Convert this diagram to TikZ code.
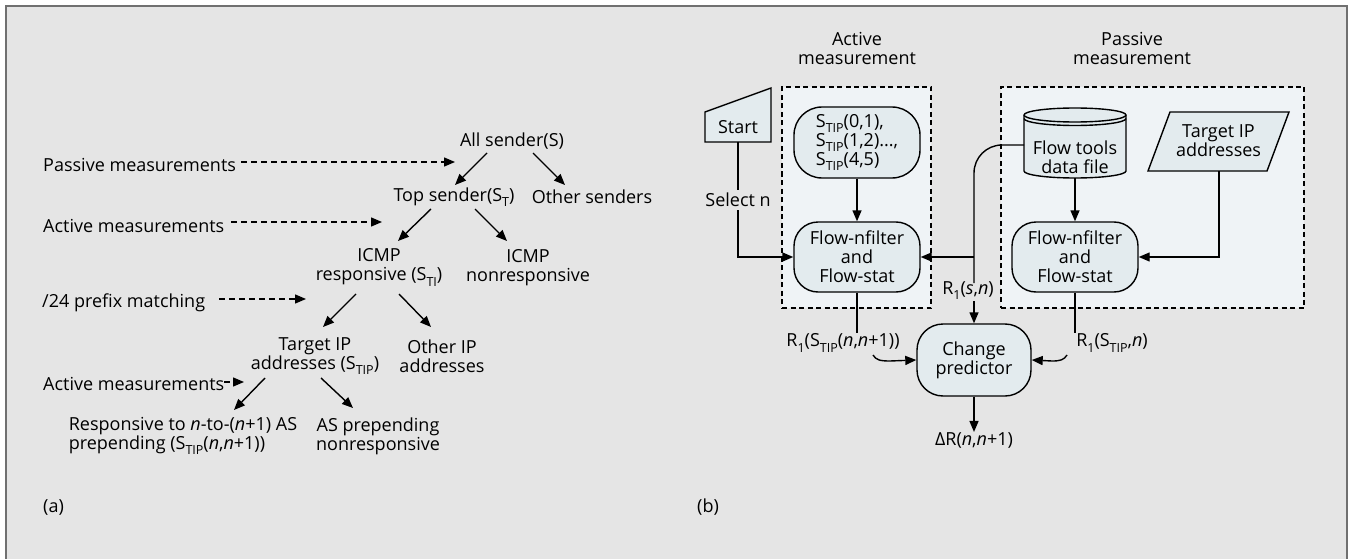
\documentclass[tikz,border=0pt]{standalone}
\usepackage{fontspec}
\setmainfont{Open Sans}
\usetikzlibrary{arrows.meta,calc}
\definecolor{bgc}{HTML}{E5E5E5}
\definecolor{framec}{HTML}{707070}
\definecolor{nodefill}{HTML}{E3EBEE}
\definecolor{boxfill}{HTML}{EFF3F6}
\newcommand\sbs[1]{\raisebox{-0.28em}{\fontsize{12.5}{12.5}\selectfont #1}}
\newcommand\nn{\textit{n}}
\begin{document}
\begin{tikzpicture}[x=1pt,y=-1pt,
  every node/.style={font=\fontsize{18}{19}\selectfont, inner sep=0pt},
  ln/.style={line width=1.4pt, black},
  arr/.style={ln, -{Triangle[length=11pt,width=9pt]}},
  darr/.style={arr, dash pattern=on 6pt off 4pt},
  rbox/.style={draw, line width=1.4pt, fill=nodefill, rounded corners=24pt, align=center, minimum width=126pt, minimum height=70pt},
  dbox/.style={draw, line width=1.1pt, dash pattern=on 5pt off 3.5pt, fill=boxfill},
  txt/.style={align=center}]
\useasboundingbox (0,0) rectangle (1357,559);
\fill[bgc] (6,6) rectangle (1347,559);
\draw[framec, line width=2pt] (6,559) -- (6,6) -- (1347,6) -- (1347,559);

% ---------- (a) ----------
\node[txt] (allS) at (512,141) {All sender(S)};
\node[txt] (topS) at (454,197) {Top sender(S\sbs{T})};
\node[txt] (others) at (592,197) {Other senders};
\node[txt] (icmpR) at (379,267.5) {ICMP\\responsive (S\sbs{TI})};
\node[txt] (icmpN) at (528,267.5) {ICMP\\nonresponsive};
\node[txt] (tip) at (315,356.5) {Target IP\\addresses (S\sbs{TIP})};
\node[txt] (otherIP) at (442,356.5) {Other IP\\addresses};
\node[align=left] (resp) at (183,436) {Responsive to \nn-to-(\nn+1) AS\\prepending (S\sbs{TIP}(\nn,\nn+1))};
\node[txt] (asnon) at (378,436) {AS prepending\\nonresponsive};
\node[anchor=west] (pm) at (43,165) {Passive measurements};
\node[anchor=west] (am1) at (43,226) {Active measurements};
\node[anchor=west] (pfx) at (42,303) {/24 prefix matching};
\node[anchor=west] (am2) at (43,384) {Active measurements};
\node[anchor=west] (la) at (43,507) {(a)};

\coordinate (pmE) at (455,162);
\coordinate (am1E) at (382,222);
\coordinate (pfxE) at (306,299);
\coordinate (am2E) at (244,382);
\draw[darr] (241,162) -- (pmE);
\draw[darr] (231,222) -- (am1E);
\draw[darr] (219,299) -- (pfxE);
\draw[darr] (224,382) -- (am2E);

\draw[arr] ($(allS)+(-25,12)$) -- ($(topS)+(1,-12)$);
\draw[arr] ($(allS)+(21,12)$) -- ($(others)+(-27,-12)$);
\draw[arr] ($(topS)+(-23,12)$) -- ($(icmpR)+(19,-26.5)$);
\draw[arr] ($(topS)+(21,12)$) -- ($(icmpN)+(-21,-26.5)$);
\draw[arr] ($(icmpR)+(-23,26.5)$) -- ($(tip)+(8,-29.5)$);
\draw[arr] ($(icmpR)+(20,26.5)$) -- ($(otherIP)+(-11,-29.5)$);
\draw[arr] ($(tip)+(-50,21.5)$) -- ($(resp)+(51,-26)$);
\draw[arr] ($(tip)+(6,21.5)$) -- ($(asnon)+(-25,-28)$);

% ---------- (b) ----------
\node[txt] (actT) at (857,48.5) {Active\\measurement};
\node[txt] (pasT) at (1132,48.5) {Passive\\measurement};
\node[dbox, minimum width=149pt, minimum height=221pt] (actbox) at (856.5,197.5) {};
\node[dbox, minimum width=303pt, minimum height=221pt] (pasbox) at (1152.5,197.5) {};

% start
\draw[ln, fill=nodefill] (705,112) -- (771,88) -- (771,142) -- (705,142) -- cycle;
\node (start) at (738,127) {Start};
\coordinate (startb) at (738,142);
\node[inner sep=3pt] (seln) at (738,200) {Select n};

% S_TIP box
\node[rbox, rounded corners=28pt, minimum height=71pt, align=left, font=\fontsize{18}{17.5}\selectfont] (stip) at (857,142.5) {S\sbs{TIP}(0,1),\\S\sbs{TIP}(1,2)...,\\S\sbs{TIP}(4,5)};
\node[rbox] (flowA) at (857,257) {Flow-nfilter\\and\\Flow-stat};

% cylinder
\node[minimum width=102pt, minimum height=70pt] (cyl) at (1075,143) {};
\draw[ln, fill=nodefill] (1024,115) -- (1024,171) arc[start angle=180,end angle=360,x radius=51pt,y radius=7pt] -- (1126,115) arc[start angle=0,end angle=180,x radius=51pt,y radius=7pt] -- cycle;
\draw[ln] (1024,115) arc[start angle=180,end angle=360,x radius=51pt,y radius=7pt];
\draw[ln] (1024,118.5) arc[start angle=180,end angle=360,x radius=51pt,y radius=7pt];
\node[txt] (cyltxt) at (1075,157.5) {Flow tools\\data file};
\coordinate (cylb) at (1075,178);
\coordinate (cylw) at (1024,145);

% target IP
\draw[ln, fill=nodefill] (1148,171) -- (1170,112) -- (1289,112) -- (1267,171) -- cycle;
\node[txt] (tgt) at (1218.5,141) {Target IP\\addresses};
\coordinate (tgtb) at (1219,171);

\node[rbox] (flowB) at (1075,257) {Flow-nfilter\\and\\Flow-stat};
\node[rbox, minimum width=114pt, minimum height=72pt, rounded corners=26pt] (chg) at (974,360) {Change\\predictor};

% connectors
\draw[ln] (startb) -- (seln.north);
\draw[arr] (seln.south) |- (flowA.west);
\draw[arr] (stip) -- (flowA);
\draw[arr] (cylb) -- (flowB.north);
\draw[arr] (tgtb) |- (flowB.east);

\coordinate (jn) at (974,257);
\coordinate (rsnT) at (974,283);
\coordinate (rsnB) at (974,301);
\node (rsn) at (968,291) {R\sbs{1}(\textit{s},\nn)};
\draw[ln, rounded corners=28pt] (cylw) -| (rsnT);
\draw[arr] (jn) -- (flowA.east);
\draw[arr] (rsnB) -- (chg.north);

\coordinate (fAe) at (857,333);
\coordinate (fBe) at (1075,333);
\draw[ln] (flowA.south) -- (fAe);
\draw[ln] (flowB.south) -- (fBe);
\node (r1a) at (843,343) {R\sbs{1}(S\sbs{TIP}(\nn,\nn+1))};
\node (r1b) at (1112,343) {R\sbs{1}(S\sbs{TIP},\nn)};
\draw[arr] (873,355) .. controls (876,360) and (880,361) .. (890,361) -- (chg.west);
\draw[arr] (1067,355) .. controls (1064,360) and (1060,361) .. (1052,361) -- (chg.east);

\node (dR) at (974,440) {ΔR(\nn,\nn+1)};
\draw[arr] (chg.south) -- (dR.north);

\node[anchor=west] (lb) at (697,507) {(b)};
\end{tikzpicture}
\end{document}
